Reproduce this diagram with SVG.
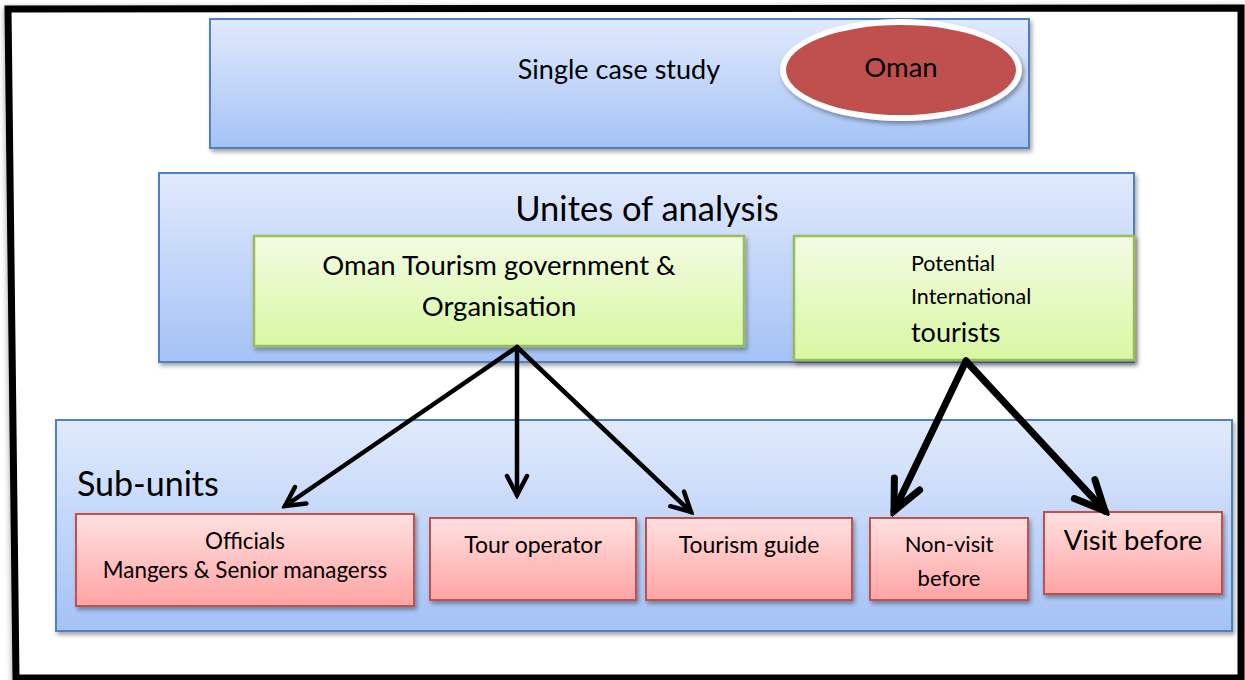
<svg xmlns="http://www.w3.org/2000/svg" width="1245" height="680" viewBox="0 0 1245 680">
  <defs>
    <linearGradient id="blueFill" x1="0" y1="0" x2="0" y2="1">
      <stop offset="0" stop-color="#e1eafc"/>
      <stop offset="1" stop-color="#a4c2f6"/>
    </linearGradient>
    <linearGradient id="greenFill" x1="0" y1="0" x2="0" y2="1">
      <stop offset="0" stop-color="#f3fbe4"/>
      <stop offset="1" stop-color="#d8f8a3"/>
    </linearGradient>
    <linearGradient id="pinkFill" x1="0" y1="0" x2="0" y2="1">
      <stop offset="0" stop-color="#ffe1e1"/>
      <stop offset="1" stop-color="#ffa3a3"/>
    </linearGradient>
    <filter id="shadow" x="-5%" y="-5%" width="110%" height="115%">
      <feDropShadow dx="2" dy="3" stdDeviation="2" flood-color="#000" flood-opacity="0.35"/>
    </filter>
    <filter id="frameShadow" x="-2%" y="-2%" width="104%" height="104%">
      <feDropShadow dx="0" dy="2" stdDeviation="3" flood-color="#000" flood-opacity="0.4"/>
    </filter>
    <marker id="headThin" markerUnits="userSpaceOnUse" viewBox="-24 -14 28 28" markerWidth="28" markerHeight="28" refX="0" refY="0" orient="auto">
      <path d="M -19,-10 L 0,0 L -19,10" fill="none" stroke="#000" stroke-width="4.5" stroke-linecap="round" stroke-linejoin="miter"/>
    </marker>
    <marker id="headThick" markerUnits="userSpaceOnUse" viewBox="-36 -20 42 40" markerWidth="42" markerHeight="40" refX="0" refY="0" orient="auto">
      <path d="M -30,-14 L 0,0 L -30,14" fill="none" stroke="#000" stroke-width="7" stroke-linecap="round" stroke-linejoin="miter"/>
    </marker>
    <style>
      .blue { fill: url(#blueFill); stroke: #4f81bd; stroke-width: 2; filter: url(#shadow); }
      .green { fill: url(#greenFill); stroke: #9bbb59; stroke-width: 2.5; filter: url(#shadow); }
      .pink { fill: url(#pinkFill); stroke: #c0504d; stroke-width: 2; filter: url(#shadow); }
      text { font-family: Lato, "Open Sans", "Liberation Sans", sans-serif; fill: #000; }
      .mid { text-anchor: middle; }
      .thin { stroke: #000; stroke-width: 4.5; fill: none; stroke-linecap: round; marker-end: url(#headThin); }
      .thick { stroke: #000; stroke-width: 7; fill: none; stroke-linecap: round; marker-end: url(#headThick); }
    </style>
  </defs>

  <rect width="1245" height="680" fill="#fff"/>

  <!-- outer frame -->
  <polygon points="8,9 1241,8 1241,678 16,678" fill="#fff" stroke="#000" stroke-width="7" stroke-linejoin="miter" filter="url(#frameShadow)"/>

  <!-- top level: single case study -->
  <g id="case-study">
    <rect class="blue" x="210" y="19" width="819" height="129"/>
    <text class="mid" x="619" y="79" font-size="27">Single case study</text>
  </g>

  <g id="oman">
    <ellipse cx="901" cy="70" rx="121" ry="51" fill="#fff" filter="url(#shadow)"/>
    <ellipse cx="901" cy="70" rx="115" ry="45" fill="#c0504d"/>
    <text class="mid" x="901" y="77" font-size="27.5">Oman</text>
  </g>

  <!-- units of analysis -->
  <g id="units">
    <rect class="blue" x="159" y="173" width="975" height="189"/>
    <text class="mid" x="647" y="221" font-size="34.5">Unites of analysis</text>
  </g>

  <g id="gov-org">
    <rect class="green" x="254" y="236" width="490" height="110"/>
    <text class="mid" x="499" y="275" font-size="27.5">Oman Tourism government &amp;</text>
    <text class="mid" x="499" y="316" font-size="27.5">Organisation</text>
  </g>

  <g id="tourists">
    <rect class="green" x="794" y="236" width="340" height="124"/>
    <text x="911" y="271" font-size="21.5">Potential</text>
    <text x="911" y="304" font-size="21.5">International</text>
    <text x="911" y="342" font-size="27">tourists</text>
  </g>

  <!-- sub-units -->
  <g id="sub-units">
    <rect class="blue" x="56" y="420" width="1176" height="211"/>
    <text x="77" y="496" font-size="34">Sub-units</text>
  </g>

  <g id="officials">
    <rect class="pink" x="76" y="514" width="338" height="92"/>
    <text class="mid" x="245" y="549" font-size="22.4">Officials</text>
    <text class="mid" x="245" y="578" font-size="22.4">Mangers &amp; Senior managerss</text>
  </g>

  <g id="tour-operator">
    <rect class="pink" x="430" y="518" width="206" height="82"/>
    <text class="mid" x="533" y="553" font-size="23">Tour operator</text>
  </g>

  <g id="tourism-guide">
    <rect class="pink" x="646" y="518" width="206" height="82"/>
    <text class="mid" x="749" y="553" font-size="23">Tourism guide</text>
  </g>

  <g id="non-visit">
    <rect class="pink" x="870" y="518" width="158" height="82"/>
    <text class="mid" x="949" y="552" font-size="22">Non-visit</text>
    <text class="mid" x="949" y="586" font-size="22">before</text>
  </g>

  <g id="visit">
    <rect class="pink" x="1044" y="512" width="178" height="82"/>
    <text class="mid" x="1133" y="550" font-size="27.4">Visit before</text>
  </g>

  <!-- connectors -->
  <g id="connectors">
    <line class="thin" x1="517" y1="347" x2="285" y2="506"/>
    <line class="thin" x1="517" y1="347" x2="517" y2="495"/>
    <line class="thin" x1="517" y1="347" x2="691" y2="512"/>
    <line class="thick" x1="966" y1="361" x2="894" y2="511"/>
    <line class="thick" x1="966" y1="361" x2="1105" y2="511"/>
  </g>
</svg>
